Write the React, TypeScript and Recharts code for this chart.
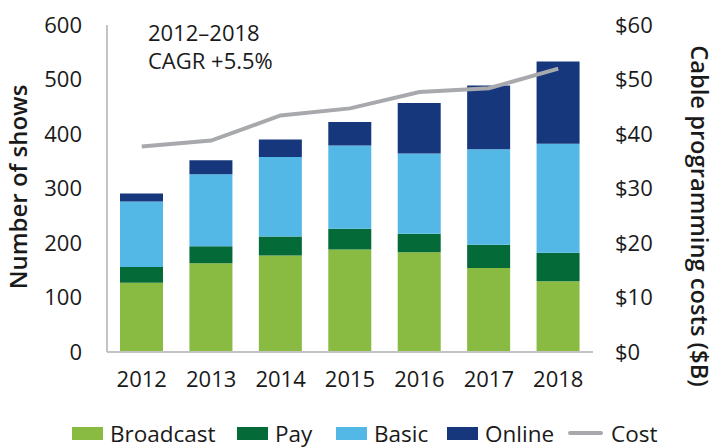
import React from 'react';
import {
  ComposedChart,
  Bar,
  Line,
  XAxis,
  YAxis,
} from 'recharts';

const years = ['2012', '2013', '2014', '2015', '2016', '2017', '2018'];
const broadcast = [127, 163, 177, 188, 183, 154, 130];
const pay = [29, 31, 35, 38, 34, 43, 52];
const basic = [120, 132, 146, 153, 147, 175, 200];
const online = [15, 26, 32, 43, 93, 117, 151];
const cost = [37.7, 38.8, 43.4, 44.7, 47.7, 48.4, 52.0];

const leftTicks = [0, 100, 200, 300, 400, 500, 600];
const rightTicks = [0, 10, 20, 30, 40, 50, 60];

const FONT = '"Open Sans", "Noto Sans", sans-serif';
const TEXT = '#1a1a1a';
const FS = 22;

const series = [
  { key: 'broadcast', name: 'Broadcast', color: '#89bb43' },
  { key: 'pay', name: 'Pay', color: '#046a38' },
  { key: 'basic', name: 'Basic', color: '#54b8e6' },
  { key: 'online', name: 'Online', color: '#17377d' },
];
const costColor = '#a7a9ac';

const data = years.map((year, i) => ({
  year,
  broadcast: broadcast[i],
  pay: pay[i],
  basic: basic[i],
  online: online[i],
  cost: cost[i],
}));

function LegendRow() {
  const items = [
    ...series.map(s => ({ name: s.name, color: s.color, line: false })),
    { name: 'Cost', color: costColor, line: true },
  ];
  const xs = [72, 237, 336, 447, 568];
  return (
    <>
      {items.map((it, i) => (
        <div
          key={it.name}
          style={{
            position: 'absolute',
            left: xs[i],
            top: 418,
            height: 30,
            display: 'flex',
            alignItems: 'center',
            fontFamily: FONT,
            fontSize: 22.5,
            color: TEXT,
          }}
        >
          {it.line ? (
            <span style={{ width: 35, height: 4, borderRadius: 2, background: it.color, marginRight: 8 }} />
          ) : (
            <span style={{ width: 31, height: 13, background: it.color, marginRight: 7 }} />
          )}
          {it.name}
        </div>
      ))}
    </>
  );
}

export default function App() {
  return (
    <div style={{ position: 'absolute', left: 0, top: 0, width: 715, height: 448, background: '#fff' }}>
      <ComposedChart
        width={715}
        height={448}
        data={data}
        margin={{ top: 25, right: 0, left: 0, bottom: 56 }}
      >
        <XAxis
          dataKey="year"
          tickLine={false}
          axisLine={{ stroke: '#c3c3c3', strokeWidth: 2 }}
          tick={{ fill: TEXT, fontSize: FS, fontFamily: FONT }}
          tickMargin={13}
          height={40}
        />
        <YAxis
          yAxisId="left"
          domain={[0, 600]}
          ticks={leftTicks}
          width={107}
          tickLine={false}
          axisLine={{ stroke: '#c3c3c3', strokeWidth: 2 }}
          tick={{ fill: TEXT, fontSize: FS, fontFamily: FONT }}
          tickMargin={19}
          interval={0}
        />
        <YAxis
          yAxisId="right"
          orientation="right"
          domain={[0, 60]}
          ticks={rightTicks}
          width={122}
          tickLine={false}
          axisLine={false}
          tick={{ fill: TEXT, fontSize: FS, fontFamily: FONT, textAnchor: 'start' }}
          tickMargin={16}
          tickFormatter={(v: number) => `$${v}`}
          interval={0}
        />
        {series.map(s => (
          <Bar
            key={s.key}
            yAxisId="left"
            dataKey={s.key}
            name={s.name}
            stackId="shows"
            fill={s.color}
            barSize={43}
            isAnimationActive={false}
          />
        ))}
        <Line
          yAxisId="right"
          type="linear"
          dataKey="cost"
          name="Cost"
          stroke={costColor}
          strokeWidth={4}
          dot={false}
          activeDot={false}
          isAnimationActive={false}
        />
      </ComposedChart>

      <div
        style={{
          position: 'absolute',
          left: 148,
          top: 18,
          fontFamily: FONT,
          fontSize: FS,
          lineHeight: '28px',
          color: TEXT,
        }}
      >
        2012–2018
        <br />
        CAGR +5.5%
      </div>

      <div
        style={{
          position: 'absolute',
          left: 17,
          top: 187,
          transform: 'translate(-50%, -50%) rotate(-90deg)',
          whiteSpace: 'nowrap',
          fontFamily: FONT,
          fontSize: 24,
          fontWeight: 600,
          color: TEXT,
        }}
      >
        Number of shows
      </div>

      <div
        style={{
          position: 'absolute',
          left: 700,
          top: 216,
          transform: 'translate(-50%, -50%) rotate(90deg)',
          whiteSpace: 'nowrap',
          fontFamily: FONT,
          fontSize: 23.7,
          fontWeight: 600,
          color: TEXT,
        }}
      >
        Cable programming costs ($B)
      </div>

      <LegendRow />
    </div>
  );
}
